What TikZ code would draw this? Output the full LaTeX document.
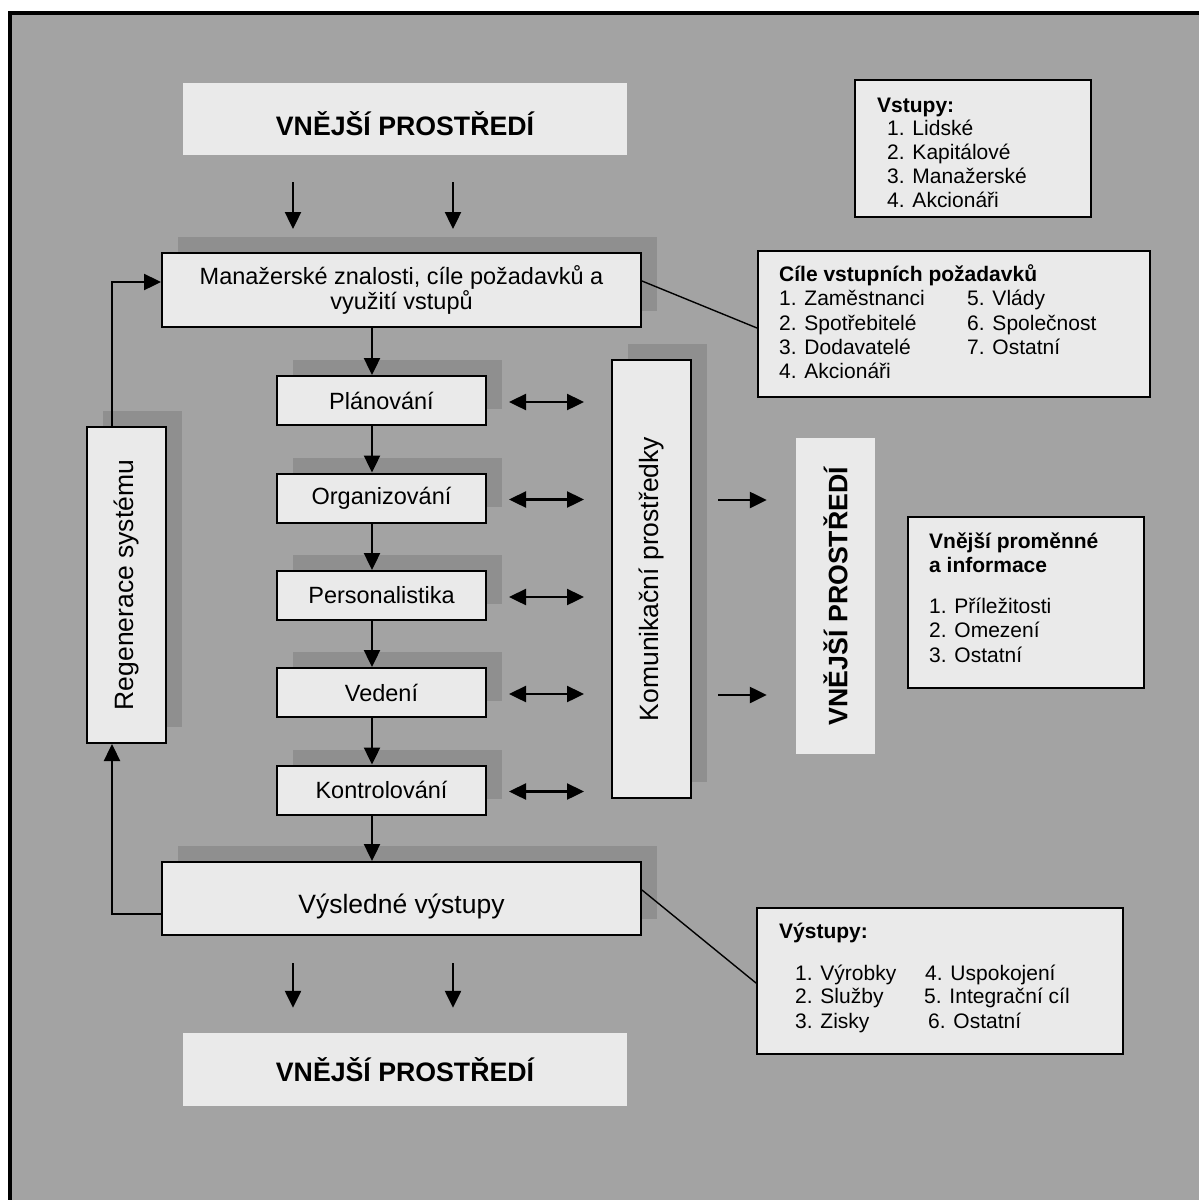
\documentclass[tikz,border=0pt]{standalone}
\usepackage{fontspec}
\setmainfont{Liberation Sans}
\usetikzlibrary{arrows.meta,shadows}
\definecolor{panel}{HTML}{A3A3A3}
\definecolor{boxfill}{HTML}{EAEAEA}
\definecolor{shade}{HTML}{8F8F8F}
\begin{document}
\begin{tikzpicture}[x=1pt,y=-1pt,
  box/.style={rectangle, draw=black, line width=2pt, fill=boxfill, inner sep=0pt},
  plate/.style={rectangle, fill=boxfill, inner sep=0pt},
  shadowed/.style={general shadow={fill=shade, shadow xshift=16pt, shadow yshift=16pt}},
  mid/.style={font=\fontsize{23.5}{25.5}\selectfont},
  big/.style={font=\fontsize{26.5}{28}\selectfont},
  hdr/.style={font=\bfseries\fontsize{26.7}{28}\selectfont},
  lst/.style={font=\fontsize{21}{24}\selectfont, anchor=base west, inner sep=0pt},
  lsthd/.style={font=\bfseries\fontsize{21}{24}\selectfont, anchor=base west, inner sep=0pt},
  tip/.tip={Triangle[length=17pt,width=16pt]},
  arr/.style={line width=2.4pt, -tip},
  darr/.style={line width=2.4pt, tip-tip},
  leader/.style={line width=1.4pt}
]
\useasboundingbox (0,0) rectangle (1199,1200);
\fill[white] (0,0) rectangle (1199,1200);
\draw[line width=4pt, fill=panel] (10,13) rectangle (1230,1230);

% environment plates
\node[plate, hdr, text height=32pt, text depth=0pt, minimum width=444pt, minimum height=72pt] (topV) at (405,119) {VNĚJŠÍ PROSTŘEDÍ};
\node[plate, hdr, minimum width=444pt, minimum height=73pt] (botV) at (405,1069.5) {VNĚJŠÍ PROSTŘEDÍ};
\node[plate, minimum width=79pt, minimum height=316pt] (vertV) at (835.5,596) {};
\node[hdr, rotate=90] (vertT) at (vertV.center) {VNĚJŠÍ PROSTŘEDÍ};

% main chain
\node[box, shadowed, mid, align=center, minimum width=479pt, minimum height=74pt] (man) at (401.5,290)
  {Manažerské znalosti, cíle požadavků a\\využití vstupů};
\node[box, shadowed, mid, minimum width=209pt, minimum height=49pt] (plan) at (381.5,400.5) {Plánování};
\node[box, shadowed, mid, minimum width=209pt, minimum height=49pt] (org) at (381.5,498) {Organizování};
\node[box, shadowed, mid, minimum width=209pt, minimum height=49pt] (pers) at (381.5,595.5) {Personalistika};
\node[box, shadowed, mid, minimum width=209pt, minimum height=49pt] (ved) at (381.5,692.5) {Vedení};
\node[box, shadowed, mid, minimum width=209pt, minimum height=49pt] (kon) at (381.5,790) {Kontrolování};
\node[box, shadowed, big, text height=29pt, text depth=0pt, minimum width=479pt, minimum height=73pt] (vys) at (401.5,898.5) {Výsledné výstupy};

% vertical boxes
\node[box, shadowed, minimum width=79pt, minimum height=316pt] (reg) at (126.5,585) {};
\node[big, rotate=90] (regT) at (reg.center) {Regenerace systému};
\node[box, shadowed, minimum width=79pt, minimum height=438pt] (kom) at (651.5,579) {};
\node[big, rotate=90] (komT) at (kom.center) {Komunikační prostředky};

% side lists
\node[box, minimum width=236pt, minimum height=137pt] (vst) at (973,148.5) {};
\node[lsthd] (vst0) at (877,112) {Vstupy:};
\node[lst] (vst1) at (887,135) {1. Lidské};
\node[lst] (vst2) at (887,159) {2. Kapitálové};
\node[lst] (vst3) at (887,183) {3. Manažerské};
\node[lst] (vst4) at (887,207) {4. Akcionáři};

\node[box, minimum width=392pt, minimum height=146pt] (cile) at (954,324) {};
\node[lsthd] (cile0) at (779,281) {Cíle vstupních požadavků};
\node[lst] (cile1) at (779,305) {1. Zaměstnanci};
\node[lst] (cile2) at (779,330) {2. Spotřebitelé};
\node[lst] (cile3) at (779,354) {3. Dodavatelé};
\node[lst] (cile4) at (779,378) {4. Akcionáři};
\node[lst] (cile5) at (967,305) {5. Vlády};
\node[lst] (cile6) at (967,330) {6. Společnost};
\node[lst] (cile7) at (967,354) {7. Ostatní};

\node[box, minimum width=236pt, minimum height=171pt] (vnp) at (1026,602.5) {};
\node[lsthd] (vnp0) at (929,548) {Vnější proměnné};
\node[lsthd] (vnp0b) at (929,572) {a informace};
\node[lst] (vnp1) at (929,613) {1. Příležitosti};
\node[lst] (vnp2) at (929,637) {2. Omezení};
\node[lst] (vnp3) at (929,662) {3. Ostatní};

\node[box, minimum width=366pt, minimum height=146pt] (vyst) at (940,981) {};
\node[lsthd] (vyst0) at (779,938) {Výstupy:};
\node[lst] (vyst1) at (795,980) {1. Výrobky};
\node[lst] (vyst2) at (795,1003) {2. Služby};
\node[lst] (vyst3) at (795,1028) {3. Zisky};
\node[lst] (vyst4) at (925,980) {4. Uspokojení};
\node[lst] (vyst5) at (924,1003) {5. Integrační cíl};
\node[lst] (vyst6) at (928,1028) {6. Ostatní};

% leader lines to the lists
\draw[leader] ([yshift=9pt]man.east) -- ([yshift=-4pt]cile.west);
\draw[leader] ([yshift=8.5pt]vys.east) -- ([yshift=-2pt]vyst.west);

% flows from and to the environment
\coordinate (d1) at (293,0);
\coordinate (d2) at (453,0);
\draw[arr, shorten <=27pt, shorten >=23pt] (d1 |- topV.south) -- (d1 |- man.north);
\draw[arr, shorten <=27pt, shorten >=23pt] (d2 |- topV.south) -- (d2 |- man.north);
\draw[arr, shorten <=27pt, shorten >=25pt] (d1 |- vys.south) -- (d1 |- botV.north);
\draw[arr, shorten <=27pt, shorten >=25pt] (d2 |- vys.south) -- (d2 |- botV.north);

% management functions chain
\coordinate (sx) at (372,0);
\draw[arr] (sx |- man.south) -- (sx |- plan.north);
\draw[arr] (sx |- plan.south) -- (sx |- org.north);
\draw[arr] (sx |- org.south) -- (sx |- pers.north);
\draw[arr] (sx |- pers.south) -- (sx |- ved.north);
\draw[arr] (sx |- ved.south) -- (sx |- kon.north);
\draw[arr] (sx |- kon.south) -- (sx |- vys.north);

% exchange with communication
\foreach \n in {plan,org,pers,ved,kon}
  \draw[darr, shorten <=22pt, shorten >=27pt] ([yshift=-1.5pt]\n.east) -- ([yshift=-1.5pt]\n.east -| kom.west);

\coordinate (e1) at (0,500);
\coordinate (e2) at (0,695);
\draw[arr, shorten <=26pt, shorten >=29pt] (kom.east |- e1) -- (vertV.west |- e1);
\draw[arr, shorten <=26pt, shorten >=29pt] (kom.east |- e2) -- (vertV.west |- e2);

% regeneration loop
\coordinate (r1) at (112,914);
\coordinate (r2) at (112,282);
\draw[arr] (vys.west |- r1) -- (r1) -- (r1 |- reg.south);
\draw[arr] (r2 |- reg.north) -- (r2) -- (man.west |- r2);
\end{tikzpicture}
\end{document}
